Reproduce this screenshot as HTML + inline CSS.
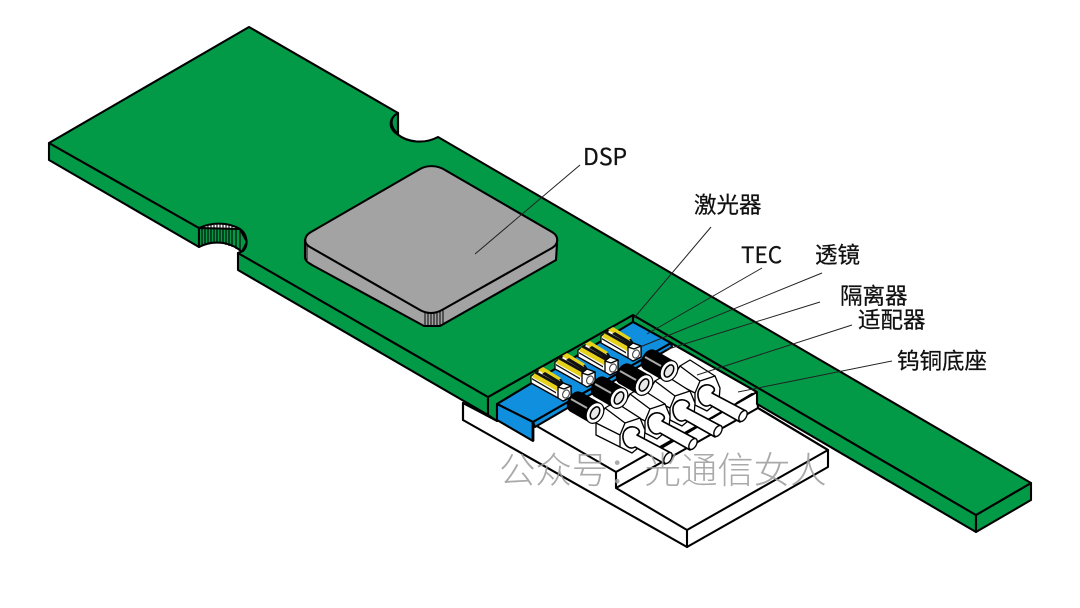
<!DOCTYPE html>
<html>
<head>
<meta charset="utf-8">
<style>
html,body{margin:0;padding:0;background:#fff;width:1080px;height:608px;overflow:hidden}
svg{display:block}
.c{font-family:"Noto Sans CJK SC","Liberation Sans",sans-serif;font-size:22.5px;fill:#111;stroke:#111;stroke-width:.25}
.k{stroke:#000;stroke-width:2.1;stroke-linejoin:round;stroke-linecap:round}
.s{stroke:#000;stroke-width:1.3;stroke-linejoin:round;stroke-linecap:round}
.ld{stroke:#222;stroke-width:1;fill:none}
</style>
</head>
<body>
<svg width="1080" height="608" viewBox="0 0 1080 608" xmlns="http://www.w3.org/2000/svg">
<defs>
<g id="laser">
  <path class="s" fill="#fff" d="M-35,-16 L-25,-23 L-5,-12 L-3,-9 L5,-6 L5,5 L-3,9 L-8,6 L-35,-9Z"/>
  <path d="M-34,-15 L-9,-1 L-7,-6 L-31,-19.5Z" fill="#e6d21a"/>
  <path d="M-32,-19 L-8,-5.5 L-7,-8 L-30,-21Z" fill="#111"/>
  <path d="M-34,-14 L-10,0 L-10,1.5 L-34,-12.5Z" fill="#111"/>
  <path d="M-28,-22 L-23,-25 L-5,-14 L-9,-10Z" fill="#e6d21a"/>
  <path d="M-24,-18 L-21,-20 L-6,-11 L-9,-9Z" fill="#111"/>
  <path d="M-11,-9 L-5,-12 L-3,-9 L-8,-5Z" fill="#111"/>
  <path class="s" fill="#fff" d="M-8,-5 L-3,-9 L5,-6 L5,5 L-3,9 L-8,6Z"/>
  <path class="s" fill="none" d="M-8,-5 L-2,-3 L5,-6"/>
  <ellipse cx="0" cy="2" rx="3.2" ry="4.2" transform="rotate(25 0 2)" fill="#fff" stroke="#444" stroke-width="1.1"/>
</g>
<g id="adapter">
  <path class="s" fill="#fff" d="M-36,-14 L-27,-29 L-17,-35 L8,-19 L13,-7 L12,6 L0,16 L-12,10 L-36,-2Z"/>
  <path class="s" fill="none" d="M-36,-14 L-12,-2 L-12,10 M-27,-29 L-7,-14 L-12,-2 M-7,-14 L8,-19"/>
  <path class="s" fill="#fff" d="M6,-8 C0,-13 -10,-9 -9,1 C-8,9 -2,13 3,10 L33,27 L39,16 L5,-2 C8,-4 8,-6 6,-8Z" style="stroke-width:1.6"/>
  <ellipse cx="36" cy="21" rx="3.4" ry="6" transform="rotate(30 36 21)" fill="#fff" stroke="#000" stroke-width="1.4"/>
</g>
<g id="ferrule">
  <path d="M-14,-21 L6,-9.5 L-6,9.5 L-26,-2Z" fill="#000"/>
  <ellipse cx="-20" cy="-11.5" rx="7" ry="11" transform="rotate(30 -20 -11.5)" fill="#000"/>
  <path d="M-24,-14 L-8,-5" stroke="#aaa" stroke-width="2"/>
  <ellipse cx="0" cy="0" rx="8" ry="11" transform="rotate(30)" fill="#fff" stroke="#000" stroke-width="1.2"/>
  <ellipse cx="0" cy="0" rx="4" ry="6.6" transform="rotate(30)" fill="#e8e8e8" stroke="#000" stroke-width="1.5"/>
</g>
</defs>

<!-- base -->
<path class="k" fill="#fff" d="M463,403 L463,420 L687,547 L828,467 L828,450 L758,408 L757,392 L671,343 L533,422 L497,420Z"/>
<path class="k" fill="none" d="M463,403 L497,421"/>
<path class="k" fill="none" d="M535,425 L616,472 L757,392 M616,472 L616,488 L758,408 L828,450 M616,488 L687,530 L828,450 M687,530 L687,547"/>
<path class="k" fill="none" d="M663,447 L680,437 M687,433 L707,421 M712,418 L732,406 M737,403 L752,394"/>
<path class="k" fill="none" d="M463,403 L463,420"/>

<!-- green faces -->
<path class="k" fill="#029a47" d="M49,143 L199,228 L199,247 L49,160Z"/>
<path class="k" fill="#029a47" d="M199,247 C212,240 230,241 242,252 L247,242 L240,229 L199,228Z"/>
<g stroke="#000" stroke-width="1.1">
  <path d="M202,228V246M205,227V245M208,226V244M211,225V243M214,225V243M217,224V243M220,224V243M223,224V244M226,225V245M229,225V246M232,226V247M236,227V249M240,229V251"/>
</g>
<path class="k" fill="#029a47" d="M238,253 L488,397 L488,415 L238,270Z"/>
<path class="k" fill="#029a47" d="M488,397 L633,315 L633,322 L497,404 L497,421 L488,415Z"/>
<path class="k" fill="#029a47" d="M633,315 L976,515 L976,532 L757,404 L757,392 L671,343 L633,322Z"/>
<path class="k" fill="#029a47" d="M976,515 L1031,483 L1031,500 L976,532Z"/>
<path class="k" fill="#029a47" d="M398,113 L398,134 C391,128 388,118 398,113Z"/>

<!-- green top -->
<path class="k" fill="#029a47" d="M49,143 L249,27 L398,113 C389,118 388,128 397,134 C408,143 425,144 438,137 L1031,483 L976,515 L633,315 L488,397 L238,253 L243,251 C249,245 247,234 240,229 C228,222 212,222 199,228Z"/>
<path class="k" d="M398,113 L398,134" fill="none"/>

<!-- chip -->
<path class="k" fill="#a3a3a3" d="M305,240 L305,258 C306,262 309,263 312,265 L424,326 L440,326 L556,260 L557,244 L428,170 L305,240Z"/>
<g stroke="#000" stroke-width="1">
  <path d="M425,310V326M428,311V326M431,311V326M434,311V326M437,310V325M440,310V325M443,308V324M307,242V260"/>
</g>
<path class="k" fill="#a3a3a3" d="M311,232 L420,169 C427,165 437,165 445,170 L552,232 C559,236 559,244 552,248 L442,310 C435,314 427,314 420,310 L310,247 C303,243 304,236 311,232Z"/>

<!-- blue TEC -->
<path fill="#0f8fde" class="k" d="M497,404 L633,322 L671,343 L533,422Z"/>
<path fill="#0f8fde" class="k" d="M533,422 L671,343 L672,347 L535,427Z"/>
<path fill="#0f8fde" class="k" d="M497,404 L533,422 L533,441 L497,420Z"/>
<path d="M533,422 L533,441" stroke="#000" stroke-width="2.8"/>

<!-- lasers -->
<use href="#laser" x="566" y="392"/>
<use href="#laser" x="590" y="378"/>
<use href="#laser" x="613" y="366"/>
<use href="#laser" x="636" y="352"/>

<!-- adapters -->
<use href="#adapter" x="707" y="395"/>
<use href="#adapter" x="682" y="410"/>
<use href="#adapter" x="657" y="423"/>
<use href="#adapter" x="632" y="437"/>

<!-- ferrules -->
<use href="#ferrule" x="669" y="371"/>
<use href="#ferrule" x="644" y="385"/>
<use href="#ferrule" x="619" y="398"/>
<use href="#ferrule" x="595" y="413"/>

<!-- leaders -->
<path class="ld" d="M580,165 L475,254"/>
<path class="ld" d="M711,227 L634,318"/>
<path class="ld" d="M762,268 L647,334"/>
<path class="ld" d="M822,273 L640,347"/>
<path class="ld" d="M820,302 L665,350"/>
<path class="ld" d="M852,325 L697,375"/>
<path class="ld" d="M892,361 L738,392"/>

<!-- labels -->
<text x="583" y="165" class="c" style="font-size:23px">DSP</text>
<text x="694" y="213" class="c">激光器</text>
<text x="741" y="263" class="c">TEC</text>
<text x="815" y="263" class="c">透镜</text>
<text x="840" y="304" class="c">隔离器</text>
<text x="858" y="328" class="c">适配器</text>
<text x="897" y="369" class="c">钨铜底座</text>

<!-- watermark -->
<text x="499" y="483" style="font-family:'Noto Sans CJK SC','Liberation Sans',sans-serif;font-size:36.4px;font-weight:300;fill:#9a9a9a;fill-opacity:.85">公众号：光通信女人</text>
</svg>
</body>
</html>
